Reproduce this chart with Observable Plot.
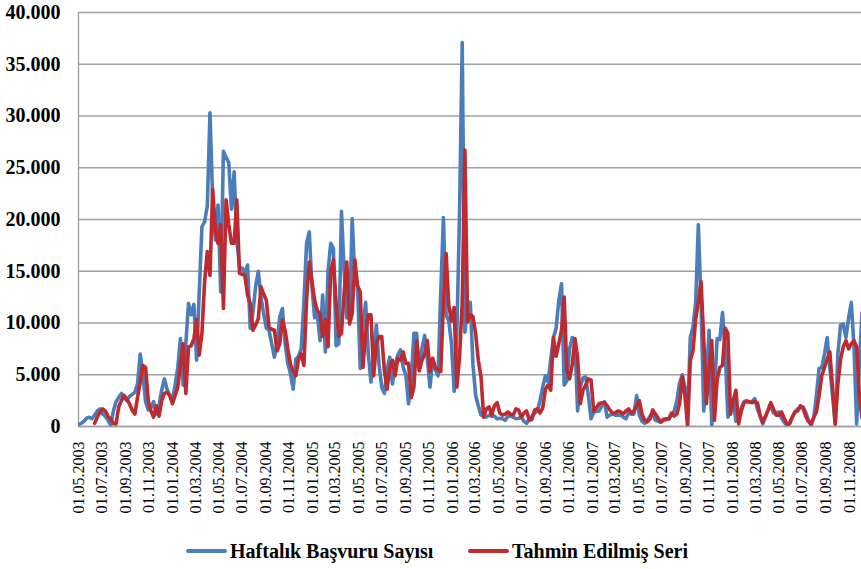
<!DOCTYPE html>
<html><head><meta charset="utf-8">
<script src="https://cdn.jsdelivr.net/npm/d3@7"></script>
<script src="https://cdn.jsdelivr.net/npm/@observablehq/plot@0.6"></script>
<style>
body{margin:0;background:#fff;}
#chart{position:relative;width:861px;height:569px;overflow:hidden;font-family:"Liberation Serif",serif;}
#chart svg{position:absolute;left:0;top:0;}
#chart svg text{font-family:"Liberation Serif",serif;}
.ytl text{font-weight:bold;}
.sw{position:absolute;height:4px;border-radius:2px;}
.lt{position:absolute;font-family:"Liberation Serif",serif;font-weight:bold;font-size:20px;line-height:20px;color:#000;white-space:nowrap;}
</style></head><body><div id="chart"></div><script>
const startDate = "2003-05-01";
const seriesNames = ["Haftalık Başvuru Sayısı", "Tahmin Edilmiş Seri"];
const yTicks = [0, 5000, 10000, 15000, 20000, 25000, 30000, 35000, 40000];
const tickLabels = [
 "01.05.2003","01.07.2003","01.09.2003","01.11.2003",
 "01.01.2004","01.03.2004","01.05.2004","01.07.2004","01.09.2004","01.11.2004",
 "01.01.2005","01.03.2005","01.05.2005","01.07.2005","01.09.2005","01.11.2005",
 "01.01.2006","01.03.2006","01.05.2006","01.07.2006","01.09.2006","01.11.2006",
 "01.01.2007","01.03.2007","01.05.2007","01.07.2007","01.09.2007","01.11.2007",
 "01.01.2008","01.03.2008","01.05.2008","01.07.2008","01.09.2008","01.11.2008"
];
// weekly observed applications (Haftalık Başvuru Sayısı)
const blue = [
 200,300,500,800,900,750,1100,1500,1700,1200,
 1000,600,100,1500,2400,2800,3200,2800,2500,2900,
 3100,3300,4100,7000,5000,2400,1600,1800,2400,1200,
 2000,3500,4600,3600,3000,2500,4000,5700,8500,4000,
 8000,11900,10800,11800,6400,13000,19300,19800,21300,30300,
 22000,18000,21400,13000,26600,26000,25500,21000,24600,18000,
 15400,15300,14800,15600,9500,11000,13500,15000,12500,10900,
 9500,9300,8000,6700,8000,10600,11400,8000,6100,5100,
 3600,6500,6800,7500,12000,17700,18800,13500,10500,10900,
 8300,12700,7200,15000,17700,17200,7800,8000,20800,15000,
 10500,10500,20100,14100,13500,5600,9600,12000,7000,4300,
 7000,9800,6000,3800,3200,5500,6700,4100,6000,6900,
 7400,5700,5000,2200,4500,9000,9000,5400,7500,8800,
 6500,3800,6500,5500,4900,13000,20200,10800,10200,8000,
 3400,9000,20500,37100,9100,11500,12000,6000,3000,2000,
 1100,1000,900,1100,1000,1000,750,800,750,600,
 1000,1000,900,750,800,900,500,300,750,1000,
 1300,1500,2500,3800,4900,4300,6500,8600,9500,12200,
 13800,4000,4400,7500,8600,8300,1500,3800,4700,4800,
 3000,750,1400,1450,1500,2000,2400,900,1100,1200,
 1100,1100,1100,900,750,1300,1200,1200,3000,1100,
 500,300,600,1000,1300,600,500,400,600,650,
 700,1100,1500,2500,4200,5000,3800,1000,8600,9600,
 12000,19500,12000,1500,4500,9300,0,3500,8500,8400,
 11000,7500,900,1500,2600,500,1200,1800,2400,2500,
 2300,2400,2700,1700,1000,250,900,1600,2000,1300,
 1300,1400,800,400,100,300,900,1400,1700,1800,
 1900,1400,600,100,800,3000,5600,5700,7000,8600,
 5700,3000,250,7000,9800,9900,8600,10500,12000,7700,
 250,6000,11000
];
// fitted series (Tahmin Edilmiş Seri)
const red = [
 null,null,null,null,null,null,300,900,1400,1700,
 1500,1000,700,300,250,1900,2500,3000,2600,2200,
 1600,1200,2800,4300,5900,5700,2500,1500,900,2000,
 1000,2500,3200,3300,3000,2200,3000,3800,6000,8000,
 3200,7700,7800,8500,10300,6900,9000,14000,16900,14600,
 22900,19000,17700,19500,11400,21900,19500,17700,17700,21900,
 14800,14700,14600,12700,11900,9300,9800,10400,13500,12800,
 12200,9600,9400,9300,7300,8000,10300,9300,7500,6000,
 5300,4900,6500,7000,5900,12200,15900,14000,12200,11200,
 10900,8700,10300,7700,15000,16100,12000,8700,9000,13000,
 15900,9900,10900,16100,13600,13000,5700,9000,10800,10800,
 4900,8000,8700,8700,5400,3600,5700,6400,4900,6600,
 6400,7200,6100,6100,2800,3800,8300,5400,6400,7000,
 8300,5300,6600,5700,5500,5300,12000,16700,11700,10200,
 11500,3800,6700,12000,26700,10100,10800,10600,9000,6400,
 4800,900,1700,1900,1100,2000,2300,1300,1100,1200,
 1400,1200,1100,1700,1600,900,1300,1500,600,700,
 1600,1700,1300,1800,3600,4000,3500,8600,6800,8000,
 9300,12500,5400,4600,6000,8500,6700,2200,3500,4000,
 4600,4500,1500,1800,2200,2300,2300,2000,1600,1300,
 1300,1500,1400,1200,1500,1700,1300,1500,2000,2500,
 1200,600,450,750,1600,1200,800,450,700,750,
 750,1300,1000,1200,2200,4800,3000,0,6400,7300,
 10400,12000,14000,8500,2200,5500,8300,600,4500,5700,
 5900,9500,9000,1200,2500,3500,250,1500,2300,2400,
 2400,2300,2400,2300,1100,400,1000,1600,2300,1700,
 1100,1100,1400,800,250,250,900,1400,1500,2000,
 1800,1000,500,250,900,1400,3000,4900,5700,6500,
 7200,3800,250,4100,6500,7700,8300,7500,8000,8300,
 7700,3000,800
];
const colors = ["#4a7ebb", "#be2a2e"];

const DAY = 864e5;
const start = new Date(startDate + "T00:00:00Z");
const weekDate = i => new Date(start.getTime() + i * 7 * DAY);
const rows = blue.map((v, i) => ({date: weekDate(i), blue: v, red: red[i]}));
const end = new Date(start.getTime() + 291.8 * 7 * DAY);
const tickDates = tickLabels.map(s => { const [d, m, y] = s.split("."); return new Date(Date.UTC(+y, +m - 1, +d)); });
const fmtNum = d3.formatLocale({decimal: ",", thousands: ".", grouping: [3], currency: ["", ""]}).format(",");
const fmtDate = d3.utcFormat("%d.%m.%Y");

const plot = Plot.plot({
  width: 861, height: 530,
  marginLeft: 78, marginRight: 0, marginTop: 12, marginBottom: 104,
  style: {fontFamily: "'Liberation Serif', serif", background: "transparent", color: "#000", overflow: "visible"},
  x: {type: "utc", domain: [start, end]},
  y: {domain: [0, 40000]},
  marks: [
    Plot.gridY(yTicks, {stroke: "#a0a0a0", strokeOpacity: 1, strokeWidth: 1.4}),
    Plot.ruleX([start], {stroke: "#a0a0a0", strokeWidth: 1.4}),
    Plot.ruleY([0], {stroke: "#a0a0a0", strokeWidth: 1.6}),
    Plot.axisY(yTicks, {tickSize: 0, tickPadding: 18, tickFormat: fmtNum, fontSize: 20, fontWeight: "bold", fill: "#000", label: null, className: "ytl"}),
    Plot.axisX(tickDates, {tickSize: 0, tickPadding: 15, tickRotate: -90, tickFormat: fmtDate, fontSize: 16, fill: "#000", label: null}),
    Plot.lineY(rows, {x: "date", y: "blue", stroke: colors[0], strokeWidth: 3.6, clip: true}),
    Plot.lineY(rows, {x: "date", y: "red", stroke: colors[1], strokeWidth: 3.6, clip: true})
  ]
});
const chart = document.getElementById("chart");
chart.appendChild(plot);

// legend below the plot
const legendItems = [
  {name: seriesNames[0], color: colors[0], lineX: 186, textX: 230},
  {name: seriesNames[1], color: colors[1], lineX: 468, textX: 512}
];
legendItems.forEach(it => {
  const sw = document.createElement("div");
  sw.className = "sw";
  sw.style.left = it.lineX + "px"; sw.style.top = "549px"; sw.style.width = "41px"; sw.style.background = it.color;
  chart.appendChild(sw);
  const t = document.createElement("div");
  t.className = "lt";
  t.style.left = it.textX + "px"; t.style.top = "541px";
  t.textContent = it.name;
  chart.appendChild(t);
});
</script></body></html>
